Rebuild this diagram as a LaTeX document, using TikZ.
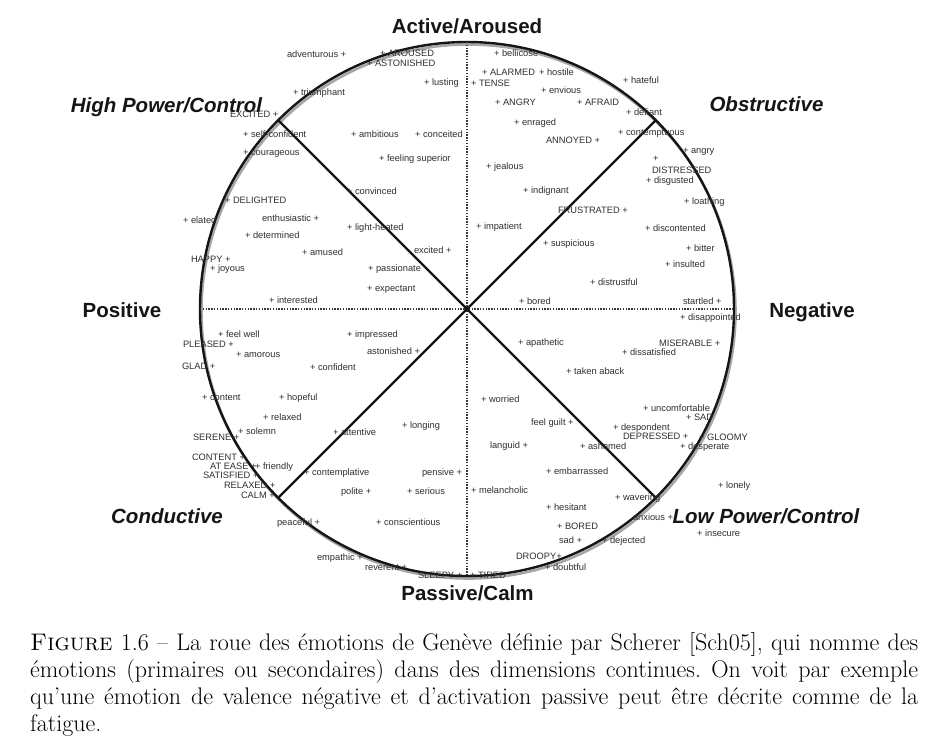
\documentclass[tikz,border=0pt]{standalone}
\usepackage{fontspec}
\newfontfamily\arialf{Liberation Sans}
\definecolor{lbltext}{HTML}{2E2E2E}
\definecolor{linecol}{HTML}{151515}
\tikzset{
  lbl/.style={font=\arialf\fontsize{9.3}{11}\selectfont, text=lbltext, inner sep=0pt, outer sep=0pt, anchor=base west},
  region/.style={font=\arialf\bfseries\fontsize{20.5}{24}\selectfont, text=linecol, inner sep=0pt, anchor=base},
  regioni/.style={region, font=\arialf\bfseries\itshape\fontsize{20.5}{24}\selectfont},
  wheelline/.style={draw=linecol, line width=2.4pt},
  axisline/.style={draw=linecol!85, line width=2.2pt, dash pattern=on 1.4pt off 1.4pt},
}
\newcommand\wl[4]{\node[lbl] (#1) at (#2,#3+3.2) {#4};}
\begin{document}
\begin{tikzpicture}[x=1pt,y=-1pt]
\useasboundingbox (0,0) rectangle (931,750);
\coordinate (c) at (467,309);
\coordinate (cs) at (468.5,311.5);
\node[circle, minimum size=534pt, inner sep=0pt, outer sep=0pt, draw=black!35, line width=2.6pt] (shadow) at (cs) {};
\node[circle, minimum size=534pt, inner sep=0pt, outer sep=0pt, wheelline] (wheel) at (c) {};
\draw[axisline] (wheel.north) -- (wheel.south);
\draw[axisline] (wheel.west) -- (wheel.east);
\draw[wheelline, line width=2.2pt] (wheel.135) -- (wheel.315);
\draw[wheelline, line width=2.2pt] (wheel.45) -- (wheel.225);

% region titles
\node[region] (act) at (467,33) {Active/Aroused};
\node[regioni] (hpc) at (166.5,112) {High Power/Control};
\node[regioni] (obs) at (766.5,111) {Obstructive};
\node[region] (pos) at (122,317) {Positive};
\node[region] (neg) at (812,317) {Negative};
\node[regioni] (con) at (167,523) {Conductive};
\node[regioni] (lpc) at (766,523) {Low Power/Control};
\node[region] (pas) at (467.5,600) {Passive/Calm};

% top-left quadrant
\wl{l01}{287}{54}{adventurous +}
\wl{l02}{380}{53}{+ AROUSED}
\wl{l03}{367}{63}{+ ASTONISHED}
\wl{l04}{424}{82}{+ lusting}
\wl{l05}{293}{92}{+ triumphant}
\wl{l06}{230}{114}{EXCITED +}
\wl{l07}{243}{134}{+ self-confident}
\wl{l08}{351}{134}{+ ambitious}
\wl{l09}{415}{134}{+ conceited}
\wl{l10}{243}{152}{+ courageous}
\wl{l11}{379}{158}{+ feeling superior}
\wl{l12}{347}{191}{+ convinced}
\wl{l13}{225}{200}{+ DELIGHTED}
\wl{l14}{183}{220}{+ elated}
\wl{l15}{262}{218}{enthusiastic +}
\wl{l16}{347}{227}{+ light-heated}
\wl{l17}{245}{235}{+ determined}
\wl{l18}{414}{250}{excited +}
\wl{l19}{302}{252}{+ amused}
\wl{l20}{191}{259}{HAPPY +}
\wl{l21}{210}{268}{+ joyous}
\wl{l22}{368}{268}{+ passionate}
\wl{l23}{367}{288}{+ expectant}
\wl{l24}{269}{300}{+ interested}

% top-right quadrant
\wl{r01}{494}{53}{+ bellicose}
\wl{r02}{482}{72}{+ ALARMED}
\wl{r03}{539}{72}{+ hostile}
\wl{r04}{471}{83}{+ TENSE}
\wl{r05}{623}{80}{+ hateful}
\wl{r06}{541}{90}{+ envious}
\wl{r07}{495}{102}{+ ANGRY}
\wl{r08}{577}{102}{+ AFRAID}
\wl{r09}{626}{112}{+ defiant}
\wl{r10}{514}{122}{+ enraged}
\wl{r11}{618}{132}{+ contemptuous}
\wl{r12}{546}{140}{ANNOYED +}
\wl{r13}{683}{150}{+ angry}
\wl{r14}{653}{158}{+}
\wl{r15}{652}{170}{DISTRESSED}
\wl{r16}{646}{180}{+ disgusted}
\wl{r17}{486}{166}{+ jealous}
\wl{r18}{523}{190}{+ indignant}
\wl{r19}{684}{201}{+ loathing}
\wl{r20}{558}{210}{FRUSTRATED +}
\wl{r21}{476}{226}{+ impatient}
\wl{r22}{645}{228}{+ discontented}
\wl{r23}{543}{243}{+ suspicious}
\wl{r24}{686}{248}{+ bitter}
\wl{r25}{665}{264}{+ insulted}
\wl{r26}{590}{282}{+ distrustful}
\wl{r27}{519}{301}{+ bored}
\wl{r28}{683}{301}{startled +}

% bottom-right quadrant
\wl{s01}{680}{317}{+ disappointed}
\wl{s02}{659}{343}{MISERABLE +}
\wl{s03}{622}{352}{+ dissatisfied}
\wl{s04}{518}{342}{+ apathetic}
\wl{s05}{566}{371}{+ taken aback}
\wl{s06}{481}{399}{+ worried}
\wl{s07}{643}{408}{+ uncomfortable}
\wl{s08}{686}{417}{+ SAD}
\wl{s09}{531}{422}{feel guilt +}
\wl{s10}{613}{427}{+ despondent}
\wl{s11}{623}{436}{DEPRESSED +}
\wl{s12}{699}{437}{+ GLOOMY}
\wl{s13}{490}{445}{languid +}
\wl{s14}{580}{446}{+ ashamed}
\wl{s15}{680}{446}{+ desperate}
\wl{s16}{546}{471}{+ embarrassed}
\wl{s17}{471}{490}{+ melancholic}
\wl{s18}{718}{485}{+ lonely}
\wl{s19}{615}{497}{+ wavering}
\wl{s20}{546}{507}{+ hesitant}
\wl{s21}{633}{517}{anxious +}
\wl{s22}{557}{526}{+ BORED}
\wl{s23}{697}{533}{+ insecure}
\wl{s24}{559}{540}{sad +}
\wl{s25}{602}{540}{+ dejected}
\wl{s26}{516}{556}{DROOPY+}
\wl{s27}{545}{567}{+ doubtful}
\wl{s28}{470}{575}{+ TIRED}

% bottom-left quadrant
\wl{t01}{218}{334}{+ feel well}
\wl{t02}{347}{334}{+ impressed}
\wl{t03}{183}{344}{PLEASED +}
\wl{t04}{236}{354}{+ amorous}
\wl{t05}{367}{351}{astonished +}
\wl{t06}{182}{366}{GLAD +}
\wl{t07}{310}{367}{+ confident}
\wl{t08}{202}{397}{+ content}
\wl{t09}{279}{397}{+ hopeful}
\wl{t10}{263}{417}{+ relaxed}
\wl{t11}{402}{425}{+ longing}
\wl{t12}{193}{437}{SERENE +}
\wl{t13}{238}{431}{+ solemn}
\wl{t14}{333}{432}{+ attentive}
\wl{t15}{192}{457}{CONTENT +}
\wl{t16}{210}{466}{AT EASE +}
\wl{t17}{255}{466}{+ friendly}
\wl{t18}{203}{475}{SATISFIED +}
\wl{t19}{304}{472}{+ contemplative}
\wl{t20}{422}{472}{pensive +}
\wl{t21}{224}{485}{RELAXED +}
\wl{t22}{341}{491}{polite +}
\wl{t23}{407}{491}{+ serious}
\wl{t24}{241}{495}{CALM +}
\wl{t25}{277}{522}{peaceful +}
\wl{t26}{376}{522}{+ conscientious}
\wl{t27}{317}{557}{empathic +}
\wl{t28}{365}{567}{reverent +}
\wl{t29}{418}{575}{SLEEPY +}

% caption
\node[anchor=base west, inner sep=0pt, text width=888pt, align=justify,
      font=\fontsize{24}{27}\selectfont] (cap) at (30,650)
{\frenchspacing\textsc{Figure} 1.6 -- La roue des émotions de Genève définie par Scherer [Sch05], qui nomme des\linebreak
émotions (primaires ou secondaires) dans des dimensions continues. On voit par exemple\linebreak
qu'une émotion de valence négative et d'activation passive peut être décrite comme de la\linebreak
fatigue.};
\end{tikzpicture}
\end{document}
